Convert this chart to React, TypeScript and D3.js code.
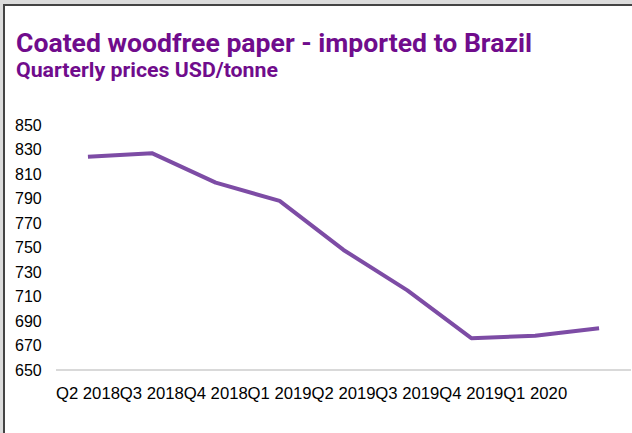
import React from 'react';
import * as d3 from 'd3';

const categories = ['Q2 2018', 'Q3 2018', 'Q4 2018', 'Q1 2019', 'Q2 2019', 'Q3 2019', 'Q4 2019', 'Q1 2020', 'Q2 2020'];
const xTickLabels = ['Q2 2018', 'Q3 2018', 'Q4 2018', 'Q1 2019', 'Q2 2019', 'Q3 2019', 'Q4 2019', 'Q1 2020', ''];
const prices = [824, 827, 803, 788, 748, 715, 676, 678, 684];
const yTicks = [650, 670, 690, 710, 730, 750, 770, 790, 810, 830, 850];

const W = 632;
const H = 433;

export default function App() {
  const x = d3.scaleBand<string>().domain(categories).range([56, 631]).padding(0);
  const y = d3.scaleLinear().domain([650, 850]).range([370, 125]);
  const cx = (c: string) => (x(c) as number) + x.bandwidth() / 2;
  const line = d3
    .line<number>()
    .x((_, i) => cx(categories[i]))
    .y((d) => y(d));

  return (
    <svg width={W} height={H} style={{ position: 'absolute', left: 0, top: 0, background: '#fff' }}>
      <rect x={0} y={0} width={W} height={H} fill="#fff" />
      <rect x={0} y={0} width={W} height={4} fill="#dcdcdc" />
      <rect x={0} y={0} width={3} height={H} fill="#dcdcdc" />
      <rect x={3} y={4} width={W - 3} height={2} fill="#444" />
      <rect x={3} y={4} width={2} height={H - 4} fill="#444" />

      <text
        x={16}
        y={52}
        fill="#700c8c"
        fontFamily="Roboto"
        fontWeight={700}
        fontSize={25}
        textLength={516}
        lengthAdjust="spacingAndGlyphs"
      >
        Coated woodfree paper - imported to Brazil
      </text>
      <text
        x={16}
        y={77}
        fill="#700c8c"
        fontFamily="Roboto"
        fontWeight={700}
        fontSize={19.5}
        textLength={262}
        lengthAdjust="spacingAndGlyphs"
      >
        Quarterly prices USD/tonne
      </text>

      <line x1={56} x2={631} y1={y(650)} y2={y(650)} stroke="#d9d9d9" strokeWidth={2} />

      {yTicks.map((t) => (
        <text
          key={t}
          x={15}
          y={y(t)}
          dy="0.35em"
          fontFamily="'Liberation Sans', Arial, sans-serif"
          fontSize={16}
          fill="#000"
        >
          {t}
        </text>
      ))}

      {categories.map((c, i) => (
        <text
          key={c}
          x={cx(c)}
          y={399}
          textAnchor="middle"
          fontFamily="'Liberation Sans', Arial, sans-serif"
          fontSize={16.7}
          fill="#000"
        >
          {xTickLabels[i]}
        </text>
      ))}

      <path d={line(prices) || ''} fill="none" stroke="#7d4ca5" strokeWidth={4} strokeLinejoin="round" />
    </svg>
  );
}
